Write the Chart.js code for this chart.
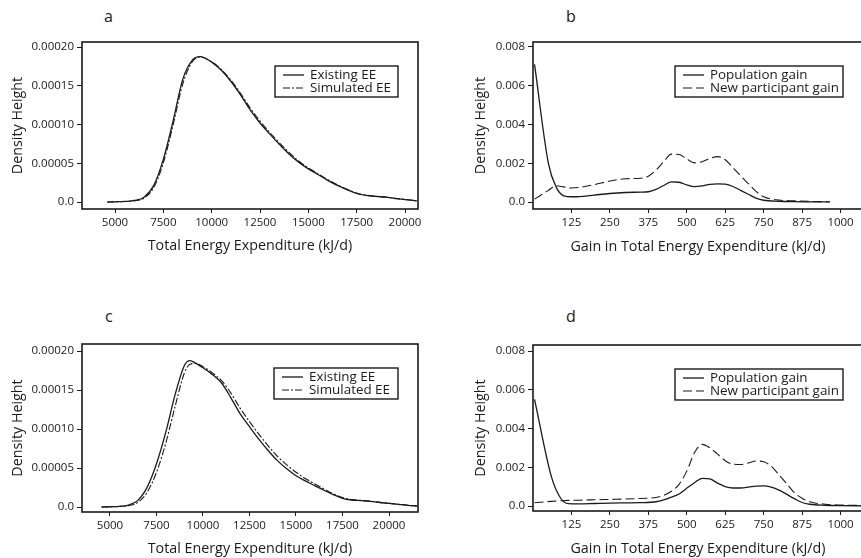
<!DOCTYPE html>
<html>
<head>
<meta charset="utf-8">
<script src="https://cdn.jsdelivr.net/npm/chart.js@4.4.1/dist/chart.umd.min.js"></script>
<style>
html, body { margin:0; padding:0; background:#fff; overflow:hidden; }
#wrap { position:relative; width:861px; height:558px; overflow:hidden; }
#wrap canvas { position:absolute; }
.lbl { position:absolute; font:16px "Open Sans", sans-serif; color:#1a1a1a; line-height:20px; }
</style>
</head>
<body>
<div id="wrap">
  <div class="lbl" style="left:104px;top:6px">a</div>
  <div class="lbl" style="left:566px;top:6px">b</div>
  <div class="lbl" style="left:105px;top:306px">c</div>
  <div class="lbl" style="left:566px;top:306px">d</div>
  <canvas id="ca" width="430" height="270" style="left:0;top:0"></canvas>
  <canvas id="cb" width="450" height="270" style="left:430px;top:0"></canvas>
  <canvas id="cc" width="430" height="278" style="left:0;top:280px"></canvas>
  <canvas id="cd" width="450" height="278" style="left:430px;top:280px"></canvas>
</div>
<script>
// panel a / c : total energy expenditure densities
var eeTicks = [5000, 7500, 10000, 12500, 15000, 17500, 20000];
var eeDensTicks = [0, 0.00005, 0.0001, 0.00015, 0.0002];
var eeDensLabels = ['0.0', '0.00005', '0.00010', '0.00015', '0.00020'];

var energyA = [4600, 5000, 5500, 6000, 6500, 7000, 7500, 8000, 8500, 9000, 9400, 10000, 10500, 11000, 11500, 12000, 12500, 13000, 13500, 14000, 14500, 15000, 15500, 16000, 16500, 17000, 17500, 18000, 18500, 19000, 19500, 20000, 20600];
var existingA = [0, 0.0000003, 0.0000008, 0.000002, 0.0000062, 0.0000212, 0.000055, 0.000104, 0.000158, 0.000183, 0.0001875, 0.0001805, 0.00017, 0.0001555, 0.000138, 0.0001185, 0.000102, 0.000088, 0.0000745, 0.000062, 0.0000515, 0.0000428, 0.0000355, 0.000028, 0.0000215, 0.000016, 0.000011, 0.0000085, 0.0000072, 0.0000062, 0.0000045, 0.0000032, 0.0000015];
var simulatedA = [0, 0.0000002, 0.0000006, 0.0000015, 0.000005, 0.0000185, 0.0000505, 0.000099, 0.000152, 0.000181, 0.0001872, 0.000181, 0.000171, 0.000157, 0.00014, 0.000121, 0.0001045, 0.00009, 0.0000765, 0.000064, 0.000053, 0.000044, 0.0000365, 0.000029, 0.0000222, 0.0000165, 0.0000115, 0.0000088, 0.0000075, 0.0000064, 0.0000048, 0.0000034, 0.0000016];

var energyC = [4550, 5000, 5500, 6000, 6500, 7000, 7500, 8000, 8500, 9000, 9300, 9600, 10000, 10500, 11000, 11500, 12000, 12500, 13000, 13500, 14000, 14500, 15000, 15500, 16000, 16500, 17000, 17500, 18000, 18500, 19000, 19500, 20000, 20500, 21000, 21500];
var existingC = [0, 0.0000003, 0.0000008, 0.0000025, 0.0000085, 0.0000255, 0.0000555, 0.000096, 0.000144, 0.0001815, 0.0001876, 0.0001845, 0.0001785, 0.00017, 0.000159, 0.00014, 0.0001195, 0.000103, 0.000087, 0.0000725, 0.0000595, 0.000049, 0.0000401, 0.0000335, 0.0000275, 0.0000215, 0.000016, 0.0000112, 0.000009, 0.0000082, 0.0000072, 0.0000058, 0.0000047, 0.0000035, 0.0000022, 0.0000013];
var simulatedC = [0, 0.0000002, 0.0000006, 0.0000018, 0.000006, 0.000019, 0.0000445, 0.000082, 0.000129, 0.000172, 0.000183, 0.000184, 0.00018, 0.000172, 0.000162, 0.000146, 0.0001265, 0.0001095, 0.0000935, 0.0000785, 0.000065, 0.000054, 0.0000445, 0.0000365, 0.0000298, 0.0000232, 0.000017, 0.000012, 0.0000095, 0.0000085, 0.0000075, 0.000006, 0.0000048, 0.0000036, 0.0000023, 0.0000014];

// panel b / d : gain densities
var gainTicks = [125, 250, 375, 500, 625, 750, 875, 1000];
var gainDensTicks = [0, 0.002, 0.004, 0.006, 0.008];
var gainDensLabels = ['0.0', '0.002', '0.004', '0.006', '0.008'];

var gainB = [5, 50, 75, 100, 125, 150, 200, 250, 300, 350, 375, 400, 425, 450, 475, 500, 525, 550, 575, 600, 625, 650, 675, 700, 725, 750, 800, 850, 900, 965];
var populationB = [0.0071, 0.002, 0.00078, 0.00032, 0.00027, 0.00028, 0.00036, 0.00044, 0.00049, 0.00051, 0.00053, 0.00065, 0.00085, 0.00104, 0.00102, 0.00088, 0.00079, 0.00083, 0.00091, 0.00094, 0.00092, 0.0008, 0.0006, 0.0004, 0.0002, 0.00009, 0.00004, 0.00002, 0.00001, 0.00001];
var participantB = [0.00015, 0.0006, 0.00084, 0.00078, 0.00072, 0.00075, 0.0009, 0.00108, 0.0012, 0.00123, 0.00133, 0.00165, 0.00208, 0.00247, 0.00245, 0.00222, 0.00202, 0.00208, 0.00225, 0.00234, 0.00218, 0.00178, 0.00135, 0.00095, 0.00055, 0.00027, 0.0001, 0.00006, 0.00003, 0.00001];

var gainD = [5, 60, 90, 115, 150, 200, 250, 300, 350, 400, 425, 450, 475, 500, 525, 550, 575, 600, 625, 650, 675, 700, 725, 750, 775, 800, 825, 850, 875, 900, 950, 1000, 1073];
var populationD = [0.0055, 0.0015, 0.0004, 0.00012, 0.00011, 0.00013, 0.00015, 0.00016, 0.00017, 0.00022, 0.00032, 0.00046, 0.00062, 0.00092, 0.0012, 0.00143, 0.0014, 0.00118, 0.001, 0.00093, 0.00093, 0.00097, 0.00103, 0.00104, 0.00097, 0.00082, 0.0006, 0.00038, 0.00018, 0.00009, 0.00004, 0.00002, 0.00001];
var participantD = [0.00017, 0.00024, 0.00027, 0.00029, 0.0003, 0.00032, 0.00034, 0.00036, 0.00039, 0.00044, 0.00055, 0.00076, 0.00112, 0.0018, 0.00275, 0.00318, 0.003, 0.00268, 0.00234, 0.00216, 0.00214, 0.00222, 0.00232, 0.00228, 0.00205, 0.0016, 0.00115, 0.00068, 0.0004, 0.00022, 0.00009, 0.00005, 0.00003];

var ink = '#1a1a1a';
var fontFam = '"Open Sans", sans-serif';

// box round the plot area plus the framed legend inside it
var frameLegend = {
  id: 'frameLegend',
  afterDatasetsDraw: function(chart, args, opts) {
    var ctx = chart.ctx, a = chart.chartArea;
    ctx.save();
    ctx.strokeStyle = ink;
    ctx.lineWidth = 1.6;
    ctx.strokeRect(a.left, a.top, a.right - a.left, a.bottom - a.top);
    var w = opts.width, h = 31;
    var lx = a.right - 20 - w, ly = a.top + 24;
    ctx.fillStyle = '#fff';
    ctx.fillRect(lx, ly, w, h);
    ctx.lineWidth = 1.4;
    ctx.strokeRect(lx, ly, w, h);
    ctx.font = '13.4px ' + fontFam;
    ctx.textBaseline = 'middle';
    chart.data.datasets.forEach(function(ds, i) {
      var y = ly + 9 + i * 13;
      ctx.beginPath();
      ctx.setLineDash(ds.borderDash || []);
      ctx.lineWidth = ds.borderWidth;
      ctx.strokeStyle = ds.borderColor;
      ctx.moveTo(lx + 8, y);
      ctx.lineTo(lx + 29, y);
      ctx.stroke();
      ctx.setLineDash([]);
      ctx.fillStyle = ink;
      ctx.fillText(ds.label, lx + 35, y);
    });
    ctx.restore();
  }
};

function pts(xs, ys) {
  return xs.map(function(x, i) { return {x: x, y: ys[i]}; });
}

function makePanel(id, cfg) {
  new Chart(document.getElementById(id), {
    type: 'line',
    data: {
      datasets: [
        { label: cfg.names[0], data: pts(cfg.xs, cfg.s1), borderColor: ink, borderWidth: 1.3, borderDash: [], pointRadius: 0, fill: false, cubicInterpolationMode: 'monotone' },
        { label: cfg.names[1], data: pts(cfg.xs, cfg.s2), borderColor: ink, borderWidth: 1.1, borderDash: cfg.dash, pointRadius: 0, fill: false, cubicInterpolationMode: 'monotone' }
      ]
    },
    options: {
      responsive: false,
      animation: false,
      devicePixelRatio: 1,
      events: [],
      layout: { padding: { top: cfg.top, right: cfg.right, left: 0, bottom: 0 } },
      plugins: {
        legend: { display: false },
        tooltip: { enabled: false },
        frameLegend: { width: cfg.legendW }
      },
      scales: {
        x: {
          type: 'linear',
          min: cfg.xmin, max: cfg.xmax,
          border: { display: false },
          grid: { display: true, drawOnChartArea: false, drawTicks: true, tickLength: 4, color: ink },
          afterBuildTicks: function(s) { s.ticks = cfg.xt.map(function(v) { return {value: v}; }); },
          afterFit: function(s) { s.height = cfg.xh; },
          ticks: { color: ink, font: { family: fontFam, size: 11.5 }, padding: 3, maxRotation: 0, autoSkip: false,
                   callback: function(v) { return String(v); } },
          title: { display: true, text: cfg.xtitle, color: ink, font: { family: fontFam, size: 14.3 }, padding: { top: 0, bottom: cfg.xtp } }
        },
        y: {
          type: 'linear',
          min: cfg.ymin, max: cfg.ymax,
          border: { display: false },
          grid: { display: true, drawOnChartArea: false, drawTicks: true, tickLength: 5, color: ink },
          afterBuildTicks: function(s) { s.ticks = cfg.yt.map(function(v) { return {value: v}; }); },
          afterFit: function(s) { s.width = cfg.yw; },
          ticks: { color: ink, font: { family: fontFam, size: 11.5 }, padding: 3, autoSkip: false,
                   callback: function(v, i) { return cfg.yl[i]; } },
          title: { display: true, text: 'Density Height', color: ink, font: { family: fontFam, size: 14.3 }, padding: { top: cfg.ytp, bottom: 0 } }
        }
      }
    },
    plugins: [frameLegend]
  });
}

makePanel('ca', {
  xs: energyA, s1: existingA, s2: simulatedA, names: ['Existing EE', 'Simulated EE'], dash: [7, 2, 2, 2],
  xt: eeTicks, yt: eeDensTicks, yl: eeDensLabels, xmin: 3293, xmax: 20672, ymin: -0.000009, ymax: 0.0002065,
  top: 42, right: 12, yw: 82, xh: 61, xtp: 15, ytp: 9, legendW: 123, xtitle: 'Total Energy Expenditure (kJ/d)'
});
makePanel('cb', {
  xs: gainB, s1: populationB, s2: participantB, names: ['Population gain', 'New participant gain'], dash: [9, 4],
  xt: gainTicks, yt: gainDensTicks, yl: gainDensLabels, xmin: 0, xmax: 1073, ymin: -0.000361, ymax: 0.008258,
  top: 42, right: 17, yw: 103, xh: 61, xtp: 14, ytp: 42, legendW: 168, xtitle: 'Gain in Total Energy Expenditure (kJ/d)'
});
makePanel('cc', {
  xs: energyC, s1: existingC, s2: simulatedC, names: ['Existing EE', 'Simulated EE'], dash: [7, 2, 2, 2],
  xt: eeTicks, yt: eeDensTicks, yl: eeDensLabels, xmin: 3495, xmax: 21559, ymin: -0.0000064, ymax: 0.000209,
  top: 64, right: 12, yw: 82, xh: 46, xtp: 0, ytp: 9, legendW: 124, xtitle: 'Total Energy Expenditure (kJ/d)'
});
makePanel('cd', {
  xs: gainD, s1: populationD, s2: participantD, names: ['Population gain', 'New participant gain'], dash: [9, 4],
  xt: gainTicks, yt: gainDensTicks, yl: gainDensLabels, xmin: 0, xmax: 1073, ymin: -0.000258, ymax: 0.00831,
  top: 65, right: 17, yw: 103, xh: 47, xtp: 0, ytp: 42, legendW: 168, xtitle: 'Gain in Total Energy Expenditure (kJ/d)'
});
</script>
</body>
</html>
